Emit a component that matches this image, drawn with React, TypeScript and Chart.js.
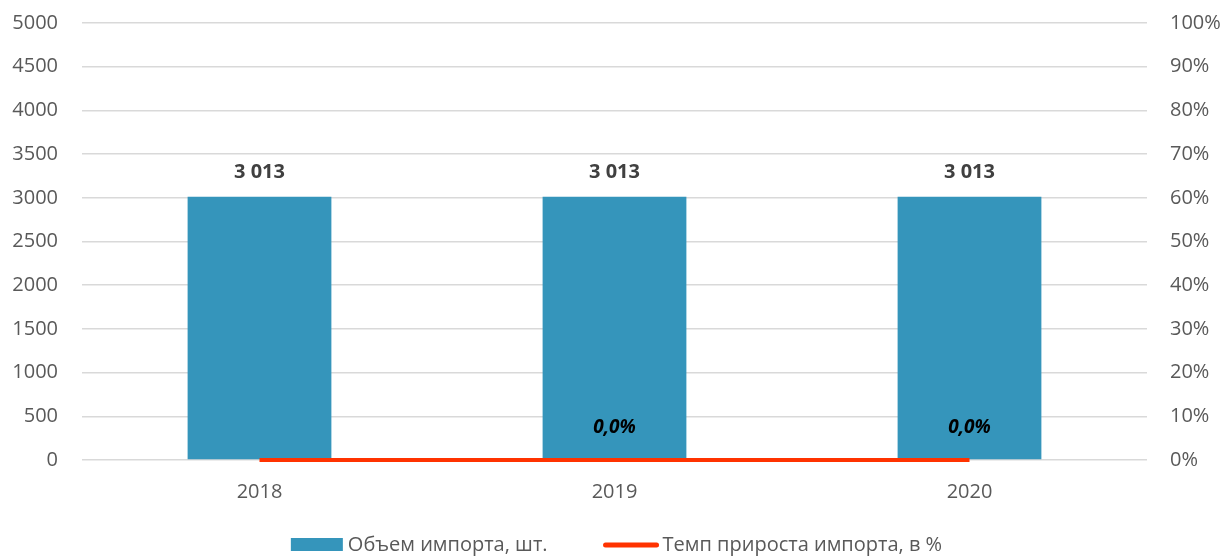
import React, { useEffect, useRef } from "react";
import { Chart, registerables } from "chart.js";

Chart.register(...registerables);

const categories = ["2018", "2019", "2020"];
const importVolume = [3013, 3013, 3013];
const growthRate = [0, 0, 0];
const growthLabels = ["", "0,0%", "0,0%"];
const volumeLabels = ["3 013", "3 013", "3 013"];
const seriesNames = ["Объем импорта, шт.", "Темп прироста импорта, в %"];

const FONT = "'Open Sans', 'Liberation Sans', sans-serif";
const BAR_COLOR = "#3595BB";
const LINE_COLOR = "#FF3300";

const labelPlugin = {
  id: "valueLabels",
  afterDatasetsDraw(chart: any) {
    const ctx = chart.ctx;
    ctx.save();
    const barMeta = chart.getDatasetMeta(0);
    ctx.textAlign = "center";
    ctx.textBaseline = "middle";
    ctx.font = `bold 20px ${FONT}`;
    ctx.fillStyle = "#404040";
    barMeta.data.forEach((el: any, i: number) => {
      ctx.fillText(volumeLabels[i], el.x, el.y - 24);
    });
    const lineMeta = chart.getDatasetMeta(1);
    ctx.font = `italic bold 19px ${FONT}`;
    ctx.fillStyle = "#000000";
    lineMeta.data.forEach((el: any, i: number) => {
      if (growthLabels[i]) ctx.fillText(growthLabels[i], el.x, el.y - 32);
    });
    ctx.restore();
  },
};

const legendPlugin = {
  id: "customLegend",
  afterDraw(chart: any) {
    const ctx = chart.ctx;
    ctx.save();
    ctx.font = `20px ${FONT}`;
    ctx.textBaseline = "middle";
    ctx.textAlign = "left";
    const sw1 = 52, g1 = 5, gap = 55, sw2 = 57, g2 = 3;
    const t1 = ctx.measureText(seriesNames[0]).width;
    const t2 = ctx.measureText(seriesNames[1]).width;
    const total = sw1 + g1 + t1 + gap + sw2 + g2 + t2;
    let x = chart.width / 2 + 4 - total / 2;
    const y = 545;
    ctx.fillStyle = BAR_COLOR;
    ctx.fillRect(x, y - 7, sw1, 13);
    x += sw1 + g1;
    ctx.fillStyle = "#595959";
    ctx.fillText(seriesNames[0], x, y);
    x += t1 + gap;
    ctx.strokeStyle = LINE_COLOR;
    ctx.lineWidth = 5;
    ctx.lineCap = "round";
    ctx.beginPath();
    ctx.moveTo(x + 3, y);
    ctx.lineTo(x + sw2 - 3, y);
    ctx.stroke();
    x += sw2 + g2;
    ctx.fillStyle = "#595959";
    ctx.fillText(seriesNames[1], x, y);
    ctx.restore();
  },
};

export default function App() {
  const ref = useRef<HTMLCanvasElement>(null);
  useEffect(() => {
    if (!ref.current) return;
    const chart = new Chart(ref.current, {
      type: "bar",
      data: {
        labels: categories,
        datasets: [
          {
            type: "bar",
            label: seriesNames[0],
            data: importVolume,
            backgroundColor: BAR_COLOR,
            borderWidth: 0,
            barPercentage: 0.405,
            categoryPercentage: 1,
            yAxisID: "y",
            order: 2,
          },
          {
            type: "line",
            label: seriesNames[1],
            data: growthRate,
            borderColor: LINE_COLOR,
            backgroundColor: LINE_COLOR,
            borderWidth: 4,
            pointRadius: 0,
            clip: false,
            yAxisID: "y1",
            order: 1,
          },
        ],
      },
      options: {
        animation: false,
        responsive: false,
        layout: { padding: { left: 0, right: 0, top: 23, bottom: 52 } },
        plugins: {
          tooltip: { enabled: false },
          legend: { display: false },
        },
        scales: {
          x: {
            grid: { display: false, drawTicks: false },
            border: { display: false },
            ticks: { color: "#595959", font: { family: FONT, size: 20 }, padding: 20 },
            afterFit: (s: any) => { s.height = 44; s.paddingLeft = 0; s.paddingRight = 0; },
          },
          y: {
            position: "left",
            min: 0,
            max: 5000,
            ticks: {
              stepSize: 500,
              color: "#595959",
              font: { family: FONT, size: 20 },
              padding: 24,
              callback: (v: any) => String(v),
            },
            grid: { color: "#D9D9D9", lineWidth: 1.5, drawTicks: false },
            border: { display: false },
            afterFit: (s: any) => { s.width = 82; s.paddingTop = 0; s.paddingBottom = 0; },
          },
          y1: {
            position: "right",
            min: 0,
            max: 1,
            ticks: {
              stepSize: 0.1,
              color: "#595959",
              font: { family: FONT, size: 20 },
              padding: 23,
              callback: (v: any) => Math.round(Number(v) * 100) + "%",
            },
            grid: { display: false, drawTicks: false },
            border: { display: false },
            afterFit: (s: any) => { s.width = 78; s.paddingTop = 0; s.paddingBottom = 0; },
          },
        },
      },
      plugins: [labelPlugin, legendPlugin],
    } as any);
    return () => chart.destroy();
  }, []);
  return (
    <div style={{ position: "absolute", left: 0, top: 0, width: 1225, height: 556 }}>
      <canvas ref={ref} width={1225} height={556} />
    </div>
  );
}
